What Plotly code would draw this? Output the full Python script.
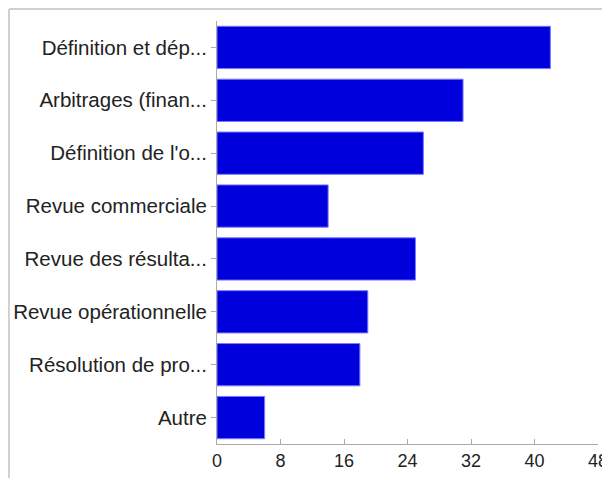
import plotly.graph_objects as go

categories = [
    "Définition et dép...",
    "Arbitrages (finan...",
    "Définition de l'o...",
    "Revue commerciale",
    "Revue des résulta...",
    "Revue opérationnelle",
    "Résolution de pro...",
    "Autre",
]
values = [42, 31, 26, 14, 25, 19, 18, 6]
x_ticks = [0, 8, 16, 24, 32, 40, 48]

fig = go.Figure(
    go.Bar(
        x=values,
        y=categories,
        orientation="h",
        marker=dict(color="#0000dc", line=dict(color="#7a7aff", width=1)),
        hoverinfo="x+y",
    )
)

# page body has an 8px margin, so the figure is offset by 8px
OFF = 8
W, H = 610 - OFF, 478 - OFF
L, R, T, B = 217 - OFF, 12, 21 - OFF, 34
pw, ph = W - L - R, H - T - B

def px_x(px):
    return (px - OFF - L) / pw

def px_y(py):
    return (H - B - (py - OFF)) / ph

fig.update_layout(
    template="none",
    width=W,
    height=H,
    margin=dict(l=L, r=R, t=T, b=B, pad=0, autoexpand=False),
    paper_bgcolor="white",
    plot_bgcolor="white",
    bargap=0.2,
    showlegend=False,
    font=dict(family="Liberation Sans, Arial, sans-serif", size=20.5, color="#222222"),
    xaxis=dict(
        automargin=False,
        range=[0, 48],
        tickvals=x_ticks,
        ticktext=[str(v) for v in x_ticks],
        ticklabeloverflow="allow",
        showgrid=False,
        zeroline=False,
        showline=True,
        linecolor="#aaaaaa",
        linewidth=1,
        ticks="inside",
        ticklen=5,
        tickcolor="#aaaaaa",
        tickfont=dict(size=18),
        fixedrange=True,
    ),
    yaxis=dict(
        automargin=False,
        autorange="reversed",
        showgrid=False,
        zeroline=False,
        showline=True,
        linecolor="#aaaaaa",
        linewidth=1,
        ticks="outside",
        ticklen=5,
        tickcolor="#aaaaaa",
        ticklabelstandoff=0,
        fixedrange=True,
    ),
    shapes=[
        dict(type="line", xref="paper", yref="paper",
             x0=px_x(9), x1=px_x(630), y0=px_y(9), y1=px_y(9),
             line=dict(color="#d0d0d0", width=2)),
        dict(type="line", xref="paper", yref="paper",
             x0=px_x(9), x1=px_x(9), y0=px_y(9), y1=px_y(490),
             line=dict(color="#d0d0d0", width=2)),
    ],
)

fig.write_html("out.html")
